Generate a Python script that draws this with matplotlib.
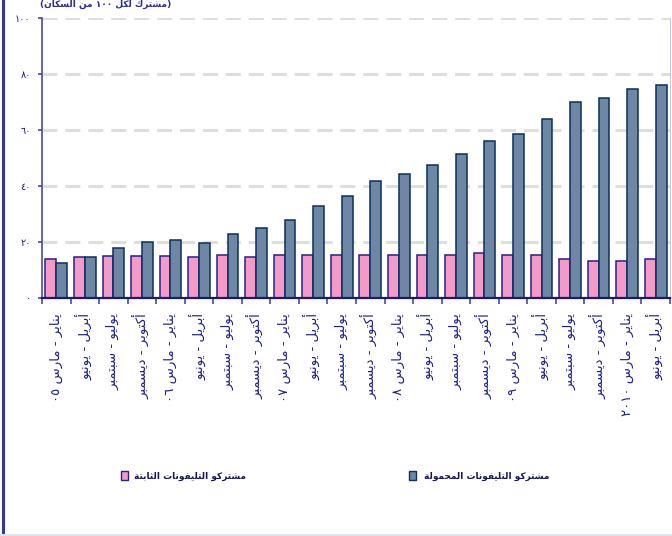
import re
import numpy as np
import matplotlib
matplotlib.use('Agg')
import matplotlib.pyplot as plt
from matplotlib.patches import Rectangle
from matplotlib.lines import Line2D

# البيانات: مشتركو الهاتف لكل ١٠٠ من السكان (ربع سنوي)
quarters = [
    'يناير - مارس ٠٥', 'أبريل - يونيو', 'يوليو - سبتمبر', 'أكتوبر - ديسمبر',
    'يناير - مارس ٠٦', 'أبريل - يونيو', 'يوليو - سبتمبر', 'أكتوبر - ديسمبر',
    'يناير - مارس ٠٧', 'أبريل - يونيو', 'يوليو - سبتمبر', 'أكتوبر - ديسمبر',
    'يناير - مارس ٠٨', 'أبريل - يونيو', 'يوليو - سبتمبر', 'أكتوبر - ديسمبر',
    'يناير - مارس ٠٩', 'أبريل - يونيو', 'يوليو - سبتمبر', 'أكتوبر - ديسمبر',
    'يناير - مارس ٢٠١٠', 'أبريل - يونيو',
]
fixed = [13.9, 14.4, 14.9, 14.9, 14.9, 14.6, 15.2, 14.6, 15.2, 15.2, 15.2,
         15.2, 15.2, 15.1, 15.1, 15.8, 15.1, 15.1, 13.7, 13.2, 13.2, 13.7]
mobile = [12.3, 14.4, 17.6, 19.7, 20.7, 19.4, 22.7, 24.7, 27.8, 32.6, 36.3,
          41.6, 44.2, 47.5, 51.2, 56.0, 58.5, 63.8, 70.1, 71.2, 74.5, 76.0]
yticks = [0, 20, 40, 60, 80, 100]
ytick_labels = ['٠', '٢٠', '٤٠', '٦٠', '٨٠', '١٠٠']
label_fixed = 'مشتركو التليفونات الثابتة'
label_mobile = 'مشتركو التليفونات المحمولة'
unit_text = '(مشترك لكل ١٠٠ من السكان)'

# تشكيل الحروف العربية (matplotlib لا يقوم بذلك)
# isolated, final, initial, medial
FORMS = {
    'ا': ('\ufe8d', '\ufe8e', None, None),
    'أ': ('\ufe83', '\ufe84', None, None),
    'ب': ('\ufe8f', '\ufe90', '\ufe91', '\ufe92'),
    'ة': ('\ufe93', '\ufe94', None, None),
    'ت': ('\ufe95', '\ufe96', '\ufe97', '\ufe98'),
    'ث': ('\ufe99', '\ufe9a', '\ufe9b', '\ufe9c'),
    'ح': ('\ufea1', '\ufea2', '\ufea3', '\ufea4'),
    'د': ('\ufea9', '\ufeaa', None, None),
    'ر': ('\ufead', '\ufeae', None, None),
    'س': ('\ufeb1', '\ufeb2', '\ufeb3', '\ufeb4'),
    'ش': ('\ufeb5', '\ufeb6', '\ufeb7', '\ufeb8'),
    'ف': ('\ufed1', '\ufed2', '\ufed3', '\ufed4'),
    'ك': ('\ufed9', '\ufeda', '\ufedb', '\ufedc'),
    'ل': ('\ufedd', '\ufede', '\ufedf', '\ufee0'),
    'م': ('\ufee1', '\ufee2', '\ufee3', '\ufee4'),
    'ن': ('\ufee5', '\ufee6', '\ufee7', '\ufee8'),
    'و': ('\ufeed', '\ufeee', None, None),
    'ي': ('\ufef1', '\ufef2', '\ufef3', '\ufef4'),
}


def shape(s):
    out = []
    for i, ch in enumerate(s):
        if ch not in FORMS:
            out.append(ch)
            continue
        iso, fin, ini, med = FORMS[ch]
        prev = s[i - 1] if i > 0 else ''
        nxt = s[i + 1] if i + 1 < len(s) else ''
        jp = prev in FORMS and FORMS[prev][2] is not None
        jn = ini is not None and nxt in FORMS
        out.append(med if jp and jn else fin if jp else ini if jn else iso)
    return ''.join(out)


def rtl(s):
    # ترتيب بصري من اليمين لليسار، والأرقام تبقى كما هي، والأقواس معكوسة
    v = shape(s)[::-1]
    v = re.sub('[\u0660-\u0669]+', lambda m: m.group()[::-1], v)
    return v.translate(str.maketrans('()', ')('))


navy = '#1f1f8f'
axis_col = '#3a3a9a'
pink = '#f49ac8'
pink_edge = '#26208a'
blue = '#6d87a5'
blue_edge = '#0b2f5e'

plt.rcParams['font.family'] = ['DejaVu Sans']

fig = plt.figure(figsize=(6.72, 5.36), dpi=100)
ax = fig.add_axes([42 / 672, 1 - 297.5 / 536, 628 / 672, 279.5 / 536])

x = np.arange(len(quarters))
w = 0.38
ax.bar(x - w / 2, fixed, w, color=pink, edgecolor=pink_edge, linewidth=1.1, zorder=3)
ax.bar(x + w / 2, mobile, w, color=blue, edgecolor=blue_edge, linewidth=1.1, zorder=3)

ax.set_xlim(-0.5, len(quarters) - 0.5)
ax.set_ylim(0, 100)

for yv in yticks[1:]:
    ax.axhline(yv, color='#dedede', linewidth=2.2, linestyle=(0, (4.9, 2.6)), zorder=1)

ax.set_yticks(yticks)
ax.set_yticklabels(ytick_labels, color=navy, fontsize=7)
ax.tick_params(axis='y', direction='out', length=3, width=1.1, color=axis_col, pad=5)

ax.set_xticks(x)
ax.set_xticklabels([rtl(q) for q in quarters], rotation=90, color=navy, fontsize=9.5)
ax.set_xticks(np.arange(len(quarters) + 1) - 0.5, minor=True)
ax.tick_params(axis='x', which='major', length=0, pad=11)
ax.tick_params(axis='x', which='minor', direction='out', length=4, width=1.1, color=axis_col)

ax.spines['left'].set_color(axis_col)
ax.spines['left'].set_linewidth(1.1)
ax.spines['bottom'].set_color('#1a1a70')
ax.spines['bottom'].set_linewidth(1.6)
ax.spines['bottom'].set_zorder(4)
ax.spines['top'].set_visible(False)
ax.spines['right'].set_color('#c8c8e0')
ax.spines['right'].set_linewidth(0.8)

# وحدة القياس في الأعلى
fig.text(106 / 672, 1.0, rtl(unit_text), ha='center', va='top',
         color='#2a2a9a', fontsize=6.5, fontweight='bold')

# مفتاح الرسم
for sx, tx, fc, ec, lab in [(121, 134, pink, pink_edge, label_fixed),
                            (409, 424, blue, blue_edge, label_mobile)]:
    fig.patches.append(Rectangle((sx / 672, 1 - 480 / 536), 7 / 672, 9 / 536,
                                 transform=fig.transFigure, facecolor=fc,
                                 edgecolor=ec, linewidth=1.0))
    fig.text(tx / 672, 1 - 476 / 536, rtl(lab), ha='left', va='center',
             color='#14145a', fontsize=6.5, fontweight='bold')

# إطار الصفحة
fig.add_artist(Line2D([3 / 672, 3 / 672], [0, 1], transform=fig.transFigure,
                      color='#3535a0', linewidth=2.2))
fig.add_artist(Line2D([0, 1], [1.5 / 536, 1.5 / 536], transform=fig.transFigure,
                      color='#e0e3f0', linewidth=2.2))

fig.savefig('out.png', dpi=100)
